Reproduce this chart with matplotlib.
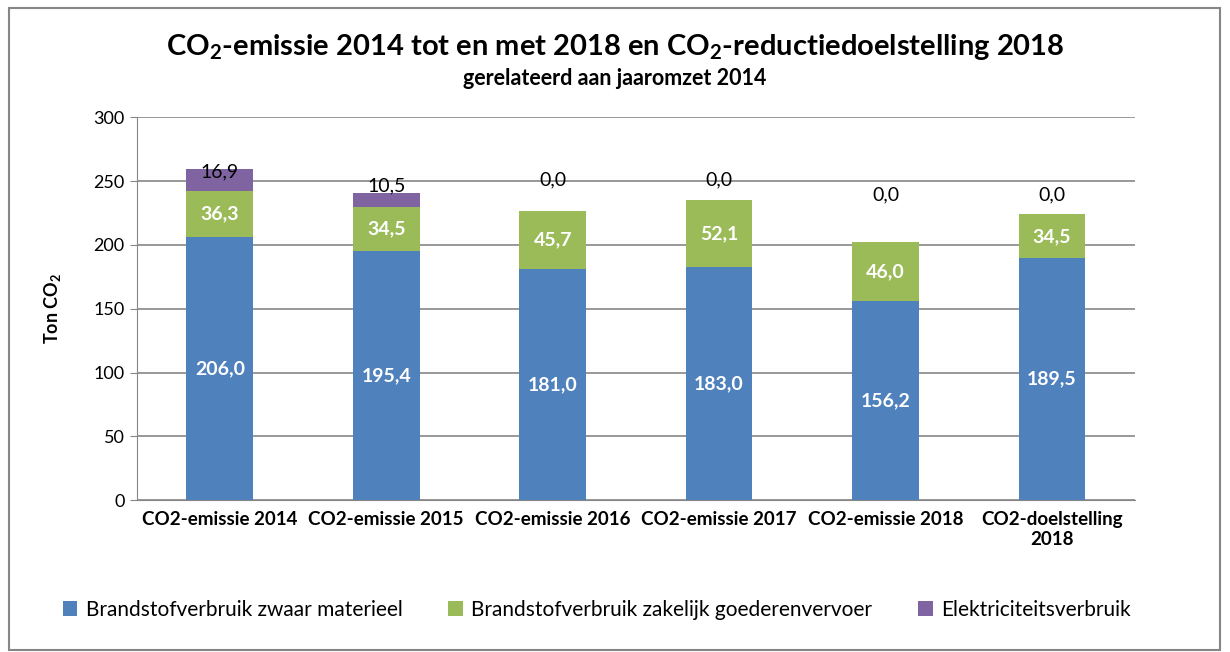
import numpy as np
import matplotlib
matplotlib.use("Agg")
import matplotlib.pyplot as plt
from matplotlib.patches import Rectangle

plt.rcParams['font.family'] = ['Lato', 'DejaVu Sans']

categories = ["CO2-emissie 2014", "CO2-emissie 2015", "CO2-emissie 2016",
              "CO2-emissie 2017", "CO2-emissie 2018", "CO2-doelstelling\n2018"]
materieel = [206.0, 195.4, 181.0, 183.0, 156.2, 189.5]
vervoer = [36.3, 34.5, 45.7, 52.1, 46.0, 34.5]
elektra = [16.9, 10.5, 0.0, 0.0, 0.0, 0.0]
series_names = ["Brandstofverbruik zwaar materieel",
                "Brandstofverbruik zakelijk goederenvervoer",
                "Elektriciteitsverbruik"]

# where the electricity labels sit (set by hand in the original)
elek_label_y = [257.5, 246.0, 251.0, 251.0, 239.5, 239.5]

c_blue = "#4f81bd"
c_green = "#9bbb59"
c_purple = "#8064a2"

fig = plt.figure(figsize=(12.3, 6.52), dpi=100)
ax = fig.add_axes([0.111, 0.233, 0.812, 0.587])

x = np.arange(len(categories))
w = 0.4
mat = np.array(materieel)
ver = np.array(vervoer)
ele = np.array(elektra)

ax.bar(x, mat, w, color=c_blue, label=series_names[0], zorder=3)
ax.bar(x, ver, w, bottom=mat, color=c_green, label=series_names[1], zorder=3)
ax.bar(x, ele, w, bottom=mat + ver, color=c_purple, label=series_names[2], zorder=3)

fmt = lambda v: f"{v:.1f}".replace(".", ",")
for i in range(len(x)):
    ax.text(x[i], mat[i] / 2, fmt(mat[i]), ha="center", va="center",
            color="white", fontweight="bold", fontsize=14, zorder=4)
    ax.text(x[i], mat[i] + ver[i] / 2, fmt(ver[i]), ha="center", va="center",
            color="white", fontweight="bold", fontsize=14, zorder=4)
    ax.text(x[i], elek_label_y[i], fmt(ele[i]), ha="center", va="center",
            color="black", fontsize=14, zorder=4)

ax.set_ylim(0, 300)
ax.set_xlim(-0.5, len(x) - 0.5)
ax.set_yticks(np.arange(0, 301, 50))
ax.yaxis.grid(True, color="#868686", linewidth=1.2, zorder=0)
ax.tick_params(axis="y", labelsize=13, length=5, color="#868686")
ax.tick_params(axis="x", length=0, pad=8)
ax.set_xticks(x)
ax.set_xticklabels(categories, fontweight="bold", fontsize=13.5)
for s in ["top", "right"]:
    ax.spines[s].set_visible(False)
ax.spines["left"].set_color("#868686")
ax.spines["bottom"].set_color("#868686")
ax.set_ylabel("Ton CO$_\\mathregular{2}$", fontweight="bold", fontsize=13, labelpad=22)

fig.text(0.5, 0.928, "CO$_\\mathregular{2}$-emissie 2014 tot en met 2018 en CO$_\\mathregular{2}$-reductiedoelstelling 2018",
         ha="center", va="center", fontsize=21, fontweight="bold")
fig.text(0.5, 0.88, "gerelateerd aan jaaromzet 2014", ha="center", va="center",
         fontsize=15.5, fontweight="bold")

fig.legend(loc="center", bbox_to_anchor=(0.485, 0.065), ncol=3, frameon=False,
           fontsize=15, handlelength=0.7, handleheight=0.7, columnspacing=2.2,
           handletextpad=0.4)

fig.patches.append(Rectangle((0.007, 0.003), 0.985, 0.985, transform=fig.transFigure,
                             fill=False, edgecolor="#868686", linewidth=1.5))

fig.savefig("out.png", dpi=100)
